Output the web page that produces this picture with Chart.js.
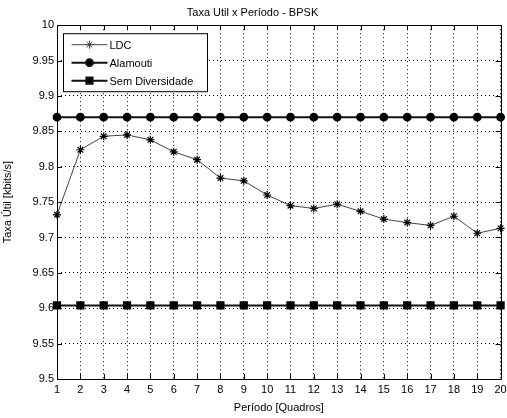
<!DOCTYPE html>
<html>
<head>
<meta charset="utf-8">
<script src="https://cdn.jsdelivr.net/npm/chart.js@4.4.1/dist/chart.umd.min.js"></script>
<style>
  html, body { margin: 0; padding: 0; background: #fff; }
  canvas { display: block; }
</style>
</head>
<body>
<canvas id="myChart" width="507" height="418"></canvas>
<script>
//Datos
const periodos = [1, 2, 3, 4, 5, 6, 7, 8, 9, 10, 11, 12, 13, 14, 15, 16, 17, 18, 19, 20];
const ldc = [9.732, 9.824, 9.843, 9.845, 9.838, 9.821, 9.810, 9.784, 9.780, 9.760,
             9.745, 9.741, 9.747, 9.737, 9.726, 9.721, 9.717, 9.730, 9.706, 9.713];
const alamouti = [9.87, 9.87, 9.87, 9.87, 9.87, 9.87, 9.87, 9.87, 9.87, 9.87,
                  9.87, 9.87, 9.87, 9.87, 9.87, 9.87, 9.87, 9.87, 9.87, 9.87];
const semDiv = [9.604, 9.604, 9.604, 9.604, 9.604, 9.604, 9.604, 9.604, 9.604, 9.604,
                9.604, 9.604, 9.604, 9.604, 9.604, 9.604, 9.604, 9.604, 9.604, 9.604];
const nomes = ['LDC', 'Alamouti', 'Sem Diversidade'];

const fonte = 'Liberation Sans, Arial, Helvetica, sans-serif';
Chart.defaults.font.family = fonte;
Chart.defaults.font.size = 11;
Chart.defaults.color = '#000';

const toXY = (arr) => arr.map((v, i) => ({ x: periodos[i], y: v }));

//Caixa, ticks para dentro e legenda (estilo matlab)
const matlabBox = {
    id: 'matlabBox',
    afterDraw(chart) {
        const { ctx, chartArea: a, scales } = chart;
        ctx.save();
        ctx.strokeStyle = '#000';
        ctx.lineWidth = 1;
        ctx.beginPath();
        ctx.rect(Math.round(a.left) + 0.5, Math.round(a.top) + 0.5,
                 Math.round(a.right - a.left), Math.round(a.bottom - a.top));
        ctx.stroke();
        const tl = 5;
        ctx.beginPath();
        scales.x.ticks.forEach(t => {
            const x = Math.round(scales.x.getPixelForValue(t.value)) + 0.5;
            ctx.moveTo(x, a.bottom); ctx.lineTo(x, a.bottom - tl);
            ctx.moveTo(x, a.top); ctx.lineTo(x, a.top + tl);
        });
        scales.y.ticks.forEach(t => {
            const y = Math.round(scales.y.getPixelForValue(t.value)) + 0.5;
            ctx.moveTo(a.left, y); ctx.lineTo(a.left + tl, y);
            ctx.moveTo(a.right, y); ctx.lineTo(a.right - tl, y);
        });
        ctx.stroke();

        //legenda
        const bx = a.left + 6.5, by = a.top + 8.5, bw = 144, bh = 58;
        ctx.fillStyle = '#fff';
        ctx.fillRect(bx, by, bw, bh);
        ctx.strokeRect(bx, by, bw, bh);
        ctx.font = '11px ' + fonte;
        ctx.textBaseline = 'middle';
        chart.data.datasets.forEach((ds, i) => {
            const y = by + 11 + i * 18;
            ctx.strokeStyle = ds.borderColor;
            ctx.lineWidth = ds.borderWidth;
            ctx.beginPath();
            ctx.moveTo(bx + 8, y); ctx.lineTo(bx + 44, y);
            ctx.stroke();
            Chart.helpers.drawPoint(ctx, {
                pointStyle: ds.pointStyle,
                radius: ds.pointRadius,
                borderWidth: 1
            }, bx + 26, y);
            ctx.fillStyle = '#000';
            ctx.fillText(ds.label, bx + 46, y + 1);
        });
        ctx.restore();
    }
};

const cdx = document.getElementById('myChart');
const chartInstance = new Chart(cdx, {
    type: 'line',
    data: {
        datasets: [
            {
                label: nomes[0],
                data: toXY(ldc),
                borderColor: '#444',
                backgroundColor: '#000',
                borderWidth: 1,
                pointStyle: 'star',
                pointRadius: 4,
                pointBorderColor: '#000',
                pointBorderWidth: 1.2,
                tension: 0,
                clip: false
            },
            {
                label: nomes[1],
                data: toXY(alamouti),
                borderColor: '#111',
                backgroundColor: '#000',
                borderWidth: 2,
                pointStyle: 'circle',
                pointRadius: 3.4,
                pointBorderColor: '#000',
                pointBackgroundColor: '#000',
                tension: 0,
                clip: false
            },
            {
                label: nomes[2],
                data: toXY(semDiv),
                borderColor: '#111',
                backgroundColor: '#000',
                borderWidth: 2,
                pointStyle: 'rect',
                pointRadius: 4.4,
                pointBorderColor: '#000',
                pointBackgroundColor: '#000',
                tension: 0,
                clip: false
            }
        ]
    },
    options: {
        responsive: false,
        animation: false,
        devicePixelRatio: 1,
        layout: { padding: { left: 0, right: 2, top: 0, bottom: 0 } },
        plugins: {
            legend: { display: false },
            tooltip: { enabled: false },
            title: {
                display: true,
                text: 'Taxa Util x Período - BPSK',
                color: '#000',
                font: { size: 11, weight: 'normal' },
                padding: { top: 6, bottom: 6 }
            }
        },
        scales: {
            x: {
                type: 'linear',
                min: 1,
                max: 20,
                ticks: { stepSize: 1, padding: 4, maxRotation: 0, autoSkip: false, color: '#000' },
                grid: { color: '#000', drawTicks: false, lineWidth: 1 },
                border: { display: false, dash: [1, 3] },
                title: { display: true, text: 'Período [Quadros]', color: '#000', padding: { top: 0, bottom: 3 } },
                afterFit(s) { s.height = 39; s.paddingLeft = 0; s.paddingRight = 0; }
            },
            y: {
                min: 9.5,
                max: 10,
                ticks: {
                    stepSize: 0.05,
                    padding: 3,
                    color: '#000',
                    callback: (v) => String(+v.toFixed(2))
                },
                grid: { color: '#000', drawTicks: false, lineWidth: 1 },
                border: { display: false, dash: [1, 3] },
                title: { display: true, text: 'Taxa Útil [kbits/s]', color: '#000', padding: { top: 1, bottom: 0 } },
                afterFit(s) { s.width = 57; s.paddingTop = 0; s.paddingBottom = 0; }
            }
        }
    },
    plugins: [matlabBox]
});
</script>
</body>
</html>
